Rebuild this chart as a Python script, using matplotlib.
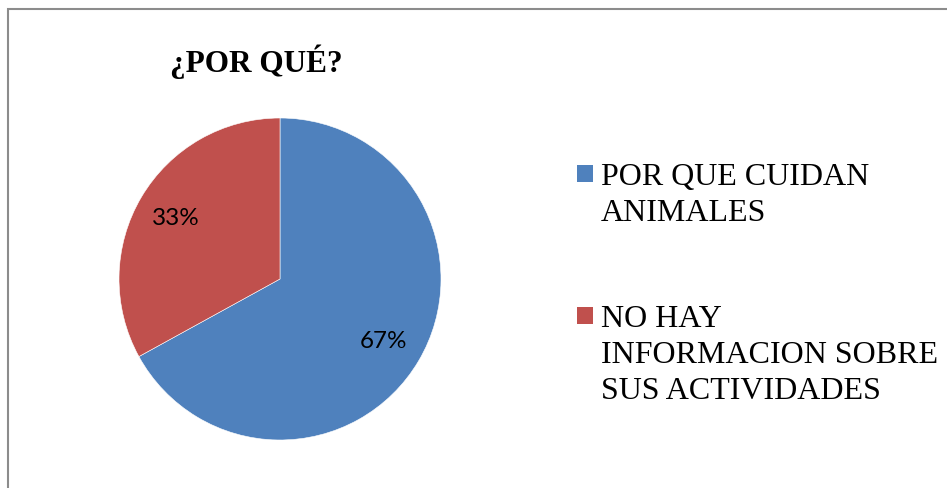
import matplotlib
matplotlib.use("Agg")
import matplotlib.pyplot as plt
from matplotlib.patches import Rectangle

# chart data
categories = ["POR QUE CUIDAN\nANIMALES", "NO HAY\nINFORMACION SOBRE\nSUS ACTIVIDADES"]
shares = [67, 33]
colors = ["#4F81BD", "#C0504D"]
title = "¿POR QUÉ?"

W, H = 947, 489
fig = plt.figure(figsize=(W / 100, H / 100), dpi=100)

# outer chart frame (cropped at right/bottom)
fig.patches.append(Rectangle((8 / W, -0.1), 1.2, (H - 10) / H + 0.1,
                             transform=fig.transFigure, fill=False,
                             edgecolor="#8c8c8c", linewidth=1.5))

ax = fig.add_axes([119 / W, (H - 441) / H, 322 / W, 322 / H])
wedges, texts, autotexts = ax.pie(
    shares, colors=colors, startangle=90, counterclock=False,
    autopct="%1.0f%%", pctdistance=0.75,
    wedgeprops=dict(edgecolor="white", linewidth=0.4),
    textprops=dict(family=["Lato", "DejaVu Sans"], fontsize=17.5, color="black"))
ax.set_xlim(-1, 1)
ax.set_ylim(-1, 1)
ax.set_aspect("equal")

fig.text(256 / W, 1 - 72 / H, title, ha="center", va="baseline",
         family="Liberation Serif", fontweight="bold", fontsize=22.5)

# legend drawn by hand so the square sits on the first line
line_step = 36
first_baselines = [185, 327]
for label, col, base in zip(categories, colors, first_baselines):
    n_lines = label.count("\n")
    fig.patches.append(Rectangle((577 / W, 1 - (base - 2) / H), 16 / W, 17 / H,
                                 transform=fig.transFigure, facecolor=col,
                                 edgecolor="none"))
    # va="baseline" anchors the last line of a multi-line text
    fig.text(601 / W, 1 - (base + n_lines * line_step) / H, label,
             ha="left", va="baseline",
             family="Liberation Serif", fontsize=23, linespacing=1.31)

fig.savefig("out.png", dpi=100)
